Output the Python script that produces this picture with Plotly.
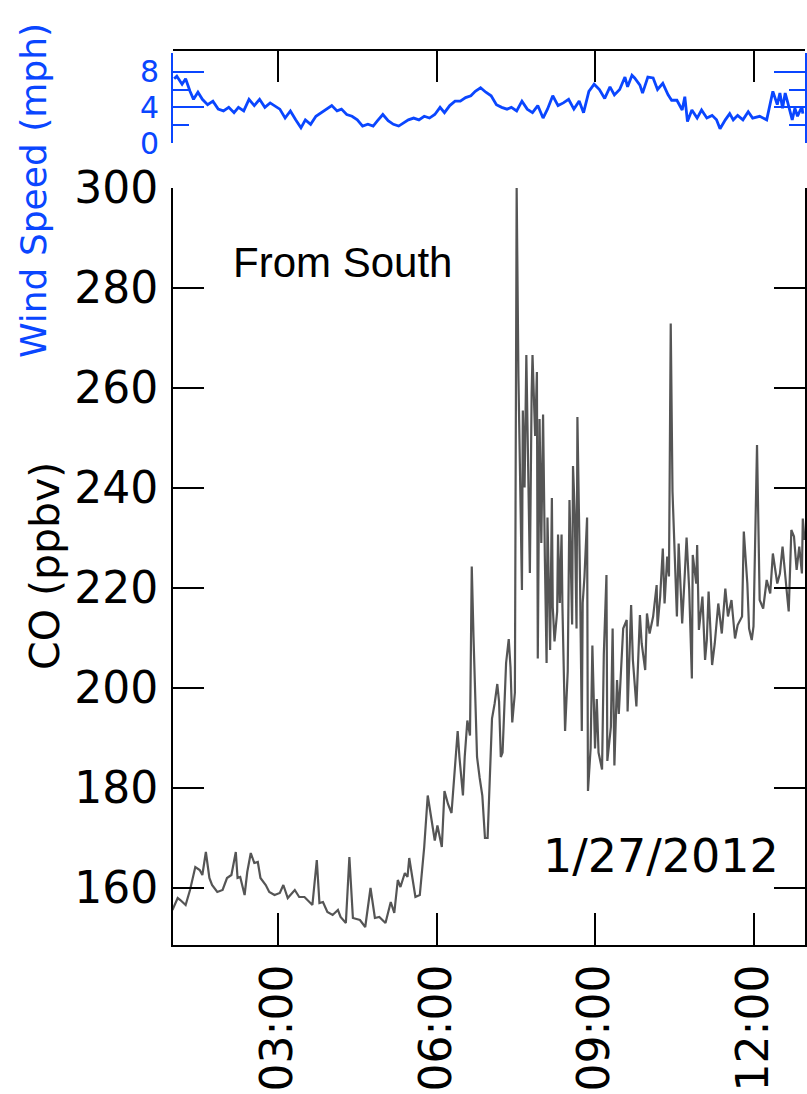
import plotly.graph_objects as go

DATE = "2012-01-27"

CO_TIME = ["01:00","01:06","01:09","01:15","01:20","01:26","01:31","01:34","01:38","01:42",
           "01:45","01:51","01:57","02:02","02:07","02:12","02:14","02:17","02:22","02:25",
           "02:29","02:33","02:37","02:40","02:46","02:50","02:56","03:02","03:06","03:11",
           "03:19","03:24","03:30","03:36","03:39","03:44","03:47","03:51","03:56","04:02",
           "04:08","04:11","04:17","04:21","04:25","04:33","04:39","04:45","04:50","04:55",
           "05:02","05:08","05:12","05:16","05:19","05:24","05:27","05:29","05:33","05:36",
           "05:41","05:44","05:46","05:50","05:54","05:58","06:01","06:06","06:09","06:13",
           "06:17","06:21","06:24","06:26","06:30","06:32","06:35","06:38","06:40","06:42",
           "06:46","06:49","06:52","06:55","06:58","07:03","07:06","07:09","07:11","07:13",
           "07:15","07:19","07:22","07:24","07:26","07:29","07:31","07:33","07:37","07:38",
           "07:40","07:42","07:44","07:46","07:48","07:49","07:52","07:54","07:55","07:57",
           "07:59","08:01","08:03","08:05","08:06","08:09","08:11","08:12","08:14","08:17",
           "08:18","08:20","08:22","08:23","08:26","08:29","08:31","08:34","08:35","08:37",
           "08:39","08:40","08:43","08:45","08:46","08:48","08:51","08:52","08:55","08:57",
           "09:00","09:02","09:04","09:08","09:10","09:13","09:14","09:18","09:20","09:22",
           "09:25","09:27","09:32","09:36","09:37","09:41","09:43","09:47","09:51","09:53",
           "09:57","09:59","10:02","10:06","10:10","10:11","10:14","10:17","10:19","10:22",
           "10:24","10:26","10:28","10:31","10:33","10:35","10:39","10:42","10:44","10:47",
           "10:50","10:51","10:55","10:56","10:58","11:02","11:05","11:07","11:09","11:13",
           "11:16","11:20","11:24","11:28","11:31","11:35","11:39","11:42","11:47","11:49",
           "11:53","11:55","11:58","12:00","12:04","12:07","12:11","12:15","12:19","12:22",
           "12:27","12:30","12:33","12:38","12:40","12:43","12:46","12:49","12:52","12:55",
           "12:56","12:58"]
CO_PPBV = [155.6,158.0,157.6,156.6,159.6,164.2,163.6,162.6,167.2,162.0,
           160.6,159.2,159.6,162.0,162.6,167.2,162.0,162.2,158.6,163.2,
           167.0,165.0,165.2,162.0,160.6,159.2,158.6,159.0,160.6,158.0,
           159.6,158.2,158.2,157.0,156.6,165.6,157.0,157.2,155.2,154.6,
           155.6,154.2,153.0,166.2,154.0,153.6,152.2,160.0,154.0,154.2,
           153.0,157.2,155.0,161.6,160.2,163.0,162.2,166.0,161.0,158.2,
           158.6,164.2,168.2,178.5,174.3,169.5,172.5,168.2,179.4,176.8,
           175.0,185.4,191.4,186.2,178.5,186.2,193.5,190.5,224.3,210.2,
           186.2,182.0,178.5,170.0,170.0,193.9,196.9,200.8,197.3,186.2,
           187.1,205.0,209.8,204.2,193.1,199.1,300.0,262.4,219.6,255.5,
           240.1,266.6,241.8,223.0,258.9,266.6,250.4,263.2,205.9,253.8,
           229.0,254.7,226.4,205.0,234.1,207.6,238.0,216.2,209.3,215.3,
           230.7,217.0,230.7,216.2,191.4,203.3,237.6,212.7,244.4,235.0,
           211.9,254.2,221.3,191.4,217.0,222.2,234.1,179.4,187.9,208.5,
           187.9,197.8,187.1,183.7,206.8,222.6,185.4,192.2,211.9,184.5,
           201.6,194.8,211.9,213.6,195.3,216.6,205.6,196.3,214.6,208.9,
           203.6,214.9,210.9,214.3,220.6,212.3,218.3,227.9,216.9,226.3,
           222.3,272.9,239.3,222.9,214.3,228.9,212.9,222.9,230.1,219.6,
           201.9,226.6,220.9,228.6,211.6,218.3,205.6,209.6,219.3,204.6,
           208.9,216.9,210.9,219.9,214.3,217.6,209.9,212.6,214.3,231.3,
           220.9,211.9,209.6,212.3,248.6,217.6,215.9,221.6,218.9,226.9,
           220.9,222.9,228.3,218.9,215.3,231.6,230.3,223.6,228.3,222.9,
           233.9,229.6]

WIND_TIME = ["01:02","01:05","01:11","01:15","01:20","01:24","01:29","01:34","01:40","01:46",
             "01:52","01:58","02:04","02:10","02:15","02:21","02:27","02:33","02:39","02:45",
             "02:51","02:56","03:02","03:08","03:14","03:20","03:26","03:31","03:37","03:43",
             "03:49","03:55","04:01","04:07","04:12","04:18","04:24","04:30","04:36","04:42",
             "04:48","04:53","04:59","05:05","05:11","05:17","05:23","05:28","05:34","05:40",
             "05:46","05:52","05:58","06:04","06:09","06:15","06:21","06:27","06:33","06:39",
             "06:44","06:50","06:56","07:02","07:08","07:14","07:20","07:25","07:31","07:37",
             "07:43","07:49","07:55","08:01","08:06","08:12","08:18","08:24","08:30","08:36",
             "08:42","08:47","08:53","08:59","09:05","09:11","09:17","09:22","09:28","09:34",
             "09:37","09:42","09:45","09:51","09:54","10:00","10:06","10:11","10:17","10:23",
             "10:27","10:33","10:39","10:42","10:45","10:50","10:56","11:01","11:07","11:13",
             "11:18","11:22","11:28","11:33","11:37","11:42","11:48","11:54","11:59","12:07",
             "12:15","12:19","12:22","12:27","12:30","12:33","12:36","12:39","12:44","12:47",
             "12:50","12:55","12:56"]
WIND_MPH = [7.2,7.5,6.6,7.2,5.8,4.9,5.7,4.9,4.3,4.7,
            3.8,3.6,4.0,3.4,4.0,3.6,4.9,4.2,4.9,4.0,
            4.5,4.2,3.8,2.8,3.6,2.6,1.7,2.6,2.1,3.0,
            3.4,3.8,4.2,3.6,3.8,3.2,3.0,2.6,1.9,2.1,
            1.9,2.5,3.2,2.5,2.1,1.9,2.3,2.6,2.8,2.6,
            3.0,2.8,3.2,4.0,3.4,4.2,4.7,4.7,5.1,5.3,
            5.8,6.2,5.7,5.3,4.3,4.0,3.8,4.0,3.6,4.7,
            3.8,3.4,4.2,2.8,3.8,5.3,4.2,4.5,4.9,3.8,
            4.7,3.4,5.8,6.6,6.0,5.0,6.3,5.4,6.0,7.4,
            6.3,7.6,7.3,6.5,5.6,7.4,7.3,6.0,6.7,5.4,
            4.8,4.8,3.7,5.2,2.4,3.7,2.8,3.7,2.8,3.1,
            2.6,1.6,2.6,3.3,2.6,3.1,2.6,3.5,2.8,3.0,
            2.6,4.6,5.8,4.3,5.6,3.9,5.6,4.5,2.6,3.9,
            3.0,4.1,3.3]

CO_TICKS = [160, 180, 200, 220, 240, 260, 280, 300]
WIND_TICKS = [0, 4, 8]
TIME_TICKS = ["03:00", "06:00", "09:00", "12:00"]

W, H = 807, 1094
BLUE = "#0a46ff"
GRAY = "#555555"

def px(x):
    return x / W

def py(y):
    return 1 - y / H

def ts(t):
    return f"{DATE} {t}"

fig = go.Figure()
fig.add_trace(go.Scatter(x=[ts(t) for t in CO_TIME], y=CO_PPBV, mode="lines",
                         line=dict(color=GRAY, width=2.2), xaxis="x", yaxis="y",
                         showlegend=False))
fig.add_trace(go.Scatter(x=[ts(t) for t in WIND_TIME], y=WIND_MPH, mode="lines",
                         line=dict(color=BLUE, width=2.8), xaxis="x2", yaxis="y2",
                         showlegend=False))

xr = [ts("01:00:40"), ts("12:58:30")]
xdom = [px(173), px(805)]

fig.update_layout(
    width=W, height=H,
    margin=dict(l=0, r=0, t=0, b=0),
    paper_bgcolor="white", plot_bgcolor="white",
    template="none",
    font=dict(family="DejaVu Sans", color="black"),
    xaxis=dict(domain=xdom, range=xr, anchor="y", type="date",
               tickvals=[ts(t) for t in TIME_TICKS], ticktext=TIME_TICKS,
               tickangle=-90, ticks="inside", ticklen=32, tickwidth=2, tickcolor="black",
               showline=True, linecolor="black", linewidth=2, showgrid=False, zeroline=False,
               tickfont=dict(family="DejaVu Sans", size=44, color="black"),
               ticklabelstandoff=0, automargin=False),
    yaxis=dict(domain=[py(945), py(188)], range=[148.6, 300], anchor="x",
               tickvals=CO_TICKS, ticks="inside", ticklen=31, tickwidth=2, tickcolor="black",
               showline=True, linecolor="black", linewidth=2, mirror="ticks",
               showgrid=False, zeroline=False,
               tickfont=dict(family="DejaVu Sans", size=44, color="black"),
               ticklabelstandoff=4, automargin=False),
    xaxis2=dict(domain=xdom, range=xr, matches="x", anchor="free", position=py(50),
                side="top", type="date",
                tickvals=[ts(t) for t in TIME_TICKS], showticklabels=False,
                ticks="inside", ticklen=31, tickwidth=2, tickcolor="black",
                showline=True, linecolor="black", linewidth=2, showgrid=False,
                zeroline=False, automargin=False),
    yaxis2=dict(domain=[py(143), py(53)], range=[0, 10.1], anchor="x2",
                tickvals=WIND_TICKS, ticks="inside", ticklen=31, tickwidth=2,
                tickcolor=BLUE, showline=True, linecolor=BLUE, linewidth=2,
                mirror="ticks", showgrid=False, zeroline=False,
                minor=dict(tickvals=[2, 6, 10], ticks="inside", ticklen=16,
                           tickwidth=2, tickcolor=BLUE, showgrid=False),
                tickfont=dict(family="DejaVu Sans", size=30, color=BLUE),
                ticklabelstandoff=6, automargin=False),
)

fig.add_annotation(text="CO (ppbv)", textangle=-90, x=px(45), y=py(566),
                   xref="paper", yref="paper", xanchor="center", yanchor="middle",
                   showarrow=False, font=dict(family="DejaVu Sans", size=41, color="black"))
fig.add_annotation(text="Wind Speed (mph)", textangle=-90, x=px(33), y=py(191),
                   xref="paper", yref="paper", xanchor="center", yanchor="middle",
                   showarrow=False, font=dict(family="DejaVu Sans", size=36, color=BLUE))
fig.add_annotation(text="From South", x=px(231), y=py(263),
                   xref="paper", yref="paper", xanchor="left", yanchor="middle",
                   showarrow=False, font=dict(family="Liberation Sans", size=42, color="black"))
fig.add_annotation(text="1/27/2012", x=px(781), y=py(856),
                   xref="paper", yref="paper", xanchor="right", yanchor="middle",
                   showarrow=False, font=dict(family="DejaVu Sans", size=46, color="black"))

fig.write_html("out.html")
